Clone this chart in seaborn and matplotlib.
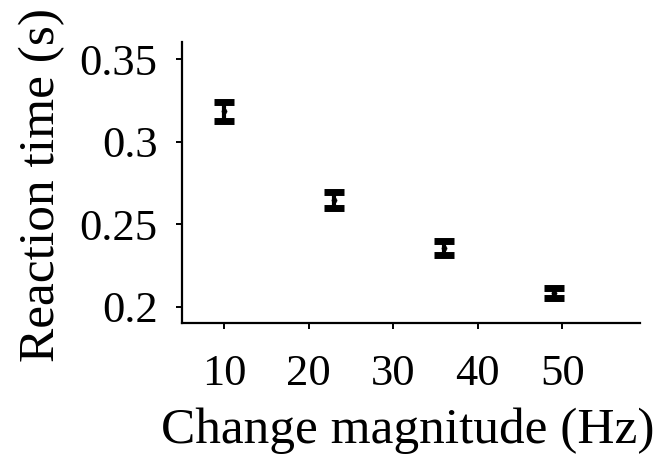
import matplotlib
matplotlib.use("Agg")
import matplotlib.pyplot as plt
import seaborn as sns
import pandas as pd

magnitude = [10, 23, 36, 49]
reaction_time = [0.3185, 0.2645, 0.2355, 0.2082]
sem = [0.0058, 0.0050, 0.0040, 0.0031]
x_ticks = [10, 20, 30, 40, 50]
y_ticks = [0.2, 0.25, 0.3, 0.35]
y_tick_labels = ["0.2", "0.25", "0.3", "0.35"]

df = pd.DataFrame({"magnitude": magnitude, "rt": reaction_time, "sem": sem})

sns.set_style("ticks")
plt.rcParams["font.family"] = ["Liberation Serif", "DejaVu Serif"]

W, H = 662, 461
fig = plt.figure(figsize=(W / 100, H / 100), dpi=100)
ax = fig.add_axes([182 / W, 1 - 323 / H, (640 - 182) / W, (323 - 42) / H])

ax.errorbar(df["magnitude"], df["rt"], yerr=df["sem"], fmt="none",
            ecolor="black", elinewidth=3.0, capsize=7.5, capthick=5.0, zorder=2)
sns.scatterplot(data=df, x="magnitude", y="rt", ax=ax, color="black",
                s=14, edgecolor="black", zorder=3, legend=False)

ax.set_xlim(5.0, 59.2)
ax.set_ylim(0.190, 0.3605)
ax.set_xticks(x_ticks)
ax.set_xticklabels([str(t) for t in x_ticks])
ax.set_yticks(y_ticks)
ax.set_yticklabels(y_tick_labels)

for side in ["top", "right"]:
    ax.spines[side].set_visible(False)
for side in ["left", "bottom"]:
    ax.spines[side].set_linewidth(1.6)
    ax.spines[side].set_color("black")

ax.tick_params(axis="both", direction="out", length=4.5, width=1.4,
               colors="black", labelsize=32)
ax.tick_params(axis="x", pad=18)
ax.tick_params(axis="y", pad=13)

ax.set_xlabel("Change magnitude (Hz)", fontsize=37, color="black")
ax.set_ylabel("Reaction time (s)", fontsize=37, color="black")
ax.xaxis.label.set_va("baseline")
ax.xaxis.set_label_coords(408 / W, 1 - 443 / H, transform=fig.transFigure)
ax.yaxis.label.set_va("center")
ax.yaxis.set_label_coords(42 / W, 1 - 185 / H, transform=fig.transFigure)

fig.savefig("out.png", dpi=100)
